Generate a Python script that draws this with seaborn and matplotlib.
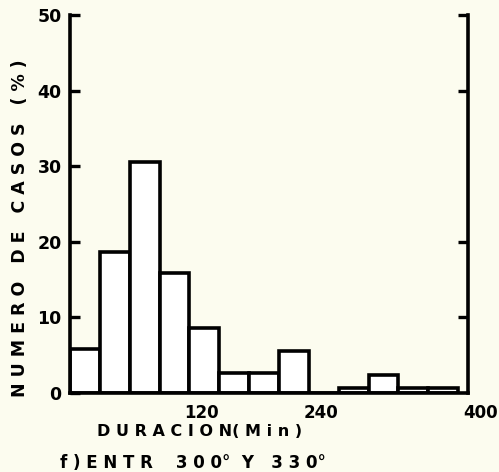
import matplotlib
matplotlib.use("Agg")
import matplotlib.pyplot as plt
import matplotlib.transforms as mtrans
import seaborn as sns
import numpy as np

# Data (30-minute bins, percentage of cases)
bin_starts = [0, 30, 60, 90, 120, 150, 180, 210, 240, 270, 300, 330, 360]
bin_width = 30
percent = [5.8, 18.6, 30.5, 15.9, 8.6, 2.7, 2.7, 5.5, 0.0, 0.7, 2.4, 0.7, 0.7]
x_ticks = [120, 240, 400]
y_ticks = [0, 10, 20, 30, 40, 50]
y_tick_labels = ["0", "10", "20", "30", "40", "50"]

bg = "#fcfcef"
sns.set_theme(style="white")
plt.rcParams["font.family"] = ["DejaVu Sans"]
plt.rcParams["font.weight"] = "bold"
for k in ["text.color", "axes.labelcolor", "xtick.color", "ytick.color"]:
    plt.rcParams[k] = "black"

fig = plt.figure(figsize=(4.99, 4.72), dpi=100, facecolor=bg)
ax = fig.add_axes([70/499, 79/472, 398/499, 378/472])
ax.set_facecolor(bg)

edges = bin_starts + [bin_starts[-1] + bin_width]
mids = [s + bin_width / 2 for s in bin_starts]
sns.histplot(x=mids, weights=percent, bins=edges, stat="count",
             color="white", edgecolor="black", linewidth=2.6, alpha=1, ax=ax)

ax.set_xlim(0, 400)
ax.set_ylim(0, 50)
ax.set_xlabel("")
ax.set_ylabel("")

for side in ["left", "bottom", "right"]:
    ax.spines[side].set_visible(True)
    ax.spines[side].set_color("black")
    ax.spines[side].set_linewidth(2.6)
ax.spines["top"].set_visible(False)

ax.set_yticks(y_ticks)
ax.set_yticklabels(y_tick_labels, fontsize=12.5, fontweight="bold")
ax.set_xticks(x_ticks)
ax.set_xticklabels([str(v) for v in x_ticks], fontsize=12, fontweight="bold", ha="left")
ax.tick_params(axis="y", which="major", direction="in", length=7, width=2.4,
               left=True, right=False, pad=6, color="black")
ax.tick_params(axis="x", length=0, pad=8)
offset = mtrans.ScaledTranslation(-5/100, 0, fig.dpi_scale_trans)
for lbl in ax.get_xticklabels():
    lbl.set_transform(lbl.get_transform() + offset)

ax2 = ax.twinx()
ax2.set_ylim(0, 50)
ax2.set_yticks([10, 20, 40, 50])
ax2.tick_params(axis="y", direction="in", length=7, width=2.4, labelright=False,
                right=True, color="black")
for s in ax2.spines.values():
    s.set_visible(False)

fig.text(20/499, 1 - 228/472, "N U M E R O   D E   C A S O S   ( % )", rotation=90,
         ha="center", va="center", fontsize=12.5, fontweight="bold")
fig.text(200/499, 1 - 432/472, "D U R A C I O N( M i n )", ha="center", va="center",
         fontsize=11.5, fontweight="bold")
fig.text(60/499, 1 - 463/472, "f ) E N T R    3 0 0°  Y   3 3 0°", ha="left", va="center",
         fontsize=12, fontweight="bold")

fig.savefig("out.png", dpi=100, facecolor=bg)
